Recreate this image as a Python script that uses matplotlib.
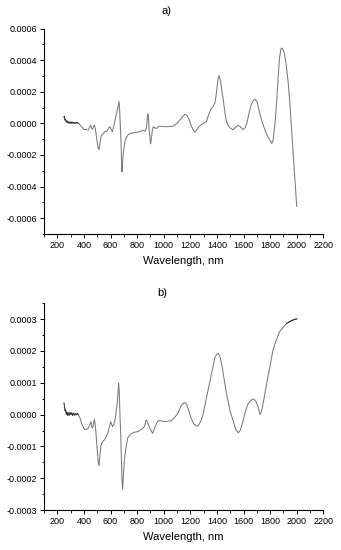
import matplotlib
matplotlib.use("Agg")
import matplotlib.pyplot as plt
from matplotlib.ticker import MultipleLocator, FuncFormatter

plt.rcParams['font.family'] = ['Liberation Sans', 'DejaVu Sans']

# ---------------- data: panel a ----------------
wl_a = [250, 253, 258, 263, 268, 273, 278, 283, 288, 293, 298, 303, 308, 313, 318, 323, 328, 333, 338, 343, 348, 353, 358,
        383, 400, 408, 420, 433, 445, 451, 458, 464, 472, 479, 485, 491, 500, 508, 514, 520, 529, 537, 546, 560, 571, 585,
        596, 605, 614, 624, 634, 645, 651, 658, 664, 669, 674, 679, 683, 686, 690, 695, 701, 710, 722, 735, 747, 770, 790,
        822, 847, 860, 867, 875, 880, 884, 890, 897, 902, 908, 915, 922, 935, 947, 960, 972, 990, 1010, 1040, 1072,
        1100, 1120, 1140, 1160, 1175, 1190, 1205, 1220, 1235, 1250, 1265, 1280, 1300, 1320, 1340, 1355, 1370, 1385, 1393,
        1400, 1408, 1416, 1424, 1432, 1440, 1448, 1460, 1472, 1486, 1500, 1523, 1545, 1560, 1575, 1595, 1610, 1625, 1640,
        1655, 1670, 1686, 1700, 1712, 1724, 1740, 1760, 1780, 1800, 1812, 1822, 1830, 1840, 1850, 1862, 1872, 1882, 1890,
        1898, 1908, 1918, 1928, 1937, 1950, 1962, 1975, 1987, 2000]
val_a = [0.000040, 0.000045, 0.000020, 0.000025, 0.000008, 0.000015, 0.000004, 0.000010, 0.000000, 0.000008, 0.000002,
         0.000009, 0.000000, 0.000007, 0.000001, 0.000006, 0.000000, 0.000005, 0.000000, 0.000006, 0.000002, 0.000005, 0.000000,
         -0.000020, -0.000040, -0.000038, -0.000040, -0.000043, -0.000020, -0.000011, -0.000030, -0.000038, -0.000020, -0.000011,
         -0.000030, -0.000064, -0.000120, -0.000160, -0.000165, -0.000130, -0.000085, -0.000070, -0.000064, -0.000050, -0.000053,
         -0.000030, -0.000021, -0.000040, -0.000053, -0.000020, 0.000020, 0.000060, 0.000084, 0.000110, 0.000140, 0.000080,
         -0.000020, -0.000120, -0.000250, -0.000307, -0.000260, -0.000200, -0.000160, -0.000110, -0.000085, -0.000070, -0.000064,
         -0.000060, -0.000058, -0.000053, -0.000043, -0.000050, -0.000040, 0.000010, 0.000060, 0.000050, -0.000030, -0.000100,
         -0.000130, -0.000090, -0.000040, -0.000021, -0.000030, -0.000032, -0.000020, -0.000017, -0.000020, -0.000021, -0.000020,
         -0.000017, 0.000000, 0.000020, 0.000040, 0.000057, 0.000050, 0.000025, -0.000010, -0.000040, -0.000055, -0.000040,
         -0.000020, -0.000010, 0.000000, 0.000010, 0.000060, 0.000090, 0.000105, 0.000130, 0.000170, 0.000220, 0.000280,
         0.000302, 0.000280, 0.000240, 0.000190, 0.000148, 0.000070, 0.000010, -0.000015, -0.000030, -0.000040, -0.000020,
         -0.000013, -0.000020, -0.000040, -0.000030, 0.000000, 0.000060, 0.000110, 0.000140, 0.000153, 0.000140, 0.000100,
         0.000060, 0.000010, -0.000040, -0.000080, -0.000110, -0.000127, -0.000110, -0.000050, 0.000030, 0.000150, 0.000310,
         0.000420, 0.000472, 0.000476, 0.000465, 0.000440, 0.000390, 0.000320, 0.000250, 0.000110, -0.000040, -0.000210,
         -0.000360, -0.000525]

# ---------------- data: panel b ----------------
wl_b = [250, 253, 258, 263, 268, 273, 278, 283, 290, 296, 302, 308, 315, 322, 330, 338, 345, 352, 358,
        370, 383, 395, 408, 420, 433, 445, 453, 460, 466, 472, 479, 485, 491, 500, 508, 514, 520, 527, 534, 545, 554, 567,
        579, 590, 601, 608, 616, 625, 634, 643, 651, 656, 661, 666, 671, 676, 681, 686, 691, 697, 703, 709, 718, 729, 745,
        759, 785, 809, 834, 850, 859, 867, 875, 883, 892, 905, 917, 925, 935, 947, 959, 980, 1010, 1040, 1060, 1080, 1098,
        1115, 1128, 1145, 1160, 1175, 1190, 1205, 1228, 1245, 1260, 1280, 1298, 1315, 1335, 1355, 1370, 1385, 1400, 1411,
        1425, 1440, 1455, 1470, 1485, 1500, 1515, 1530, 1545, 1561, 1575, 1590, 1611, 1630, 1649, 1665, 1679, 1695, 1711,
        1724, 1735, 1750, 1761, 1780, 1799, 1820, 1835, 1850, 1870, 1899, 1925, 1950, 1975, 2000]
val_b = [0.000036, 0.000030, 0.000012, 0.000015, 0.000000, 0.000008, -0.000003, 0.000006, -0.000002, 0.000007, 0.000000,
         0.000006, -0.000003, 0.000005, -0.000002, 0.000004, -0.000001, 0.000004, 0.000000,
         -0.000010, -0.000027, -0.000040, -0.000048, -0.000046, -0.000043, -0.000030, -0.000022, -0.000040, -0.000043, -0.000030,
         -0.000015, -0.000030, -0.000059, -0.000110, -0.000150, -0.000161, -0.000130, -0.000100, -0.000090, -0.000083, -0.000080,
         -0.000070, -0.000059, -0.000040, -0.000022, -0.000030, -0.000038, -0.000030, -0.000017, 0.000010, 0.000036, 0.000070,
         0.000100, 0.000070, 0.000000, -0.000050, -0.000130, -0.000200, -0.000235, -0.000190, -0.000150, -0.000125, -0.000100,
         -0.000074, -0.000064, -0.000059, -0.000055, -0.000053, -0.000046, -0.000040, -0.000032, -0.000017, -0.000020, -0.000030,
         -0.000038, -0.000050, -0.000059, -0.000050, -0.000040, -0.000027, -0.000019, -0.000020, -0.000022, -0.000020, -0.000019,
         -0.000010, -0.000001, 0.000012, 0.000025, 0.000035, 0.000038, 0.000030, 0.000010, -0.000010, -0.000030, -0.000036,
         -0.000035, -0.000020, 0.000004, 0.000040, 0.000080, 0.000120, 0.000150, 0.000180, 0.000190, 0.000193, 0.000180,
         0.000150, 0.000110, 0.000070, 0.000040, 0.000010, -0.000010, -0.000030, -0.000050, -0.000057, -0.000050, -0.000030,
         0.000005, 0.000030, 0.000042, 0.000048, 0.000048, 0.000040, 0.000022, 0.000000, 0.000010, 0.000040, 0.000067, 0.000110,
         0.000151, 0.000200, 0.000220, 0.000238, 0.000260, 0.000275, 0.000287, 0.000293, 0.000298, 0.000301]

titles = ["a)", "b)"]
xlabel = "Wavelength, nm"

line_color = "#7a7a7a"

fig = plt.figure(figsize=(3.41, 5.50), dpi=100)
W, H = 341.0, 550.0
ax_a = fig.add_axes([44 / W, 1 - 234 / H, (323.3 - 44) / W, (234 - 28.5) / H])
ax_b = fig.add_axes([44 / W, 1 - 510 / H, (323.3 - 44) / W, (510 - 303.3) / H])


def fmt(v, pos):
    s = "%.4f" % v
    if s == "-0.0000":
        s = "0.0000"
    return s


def style(ax, ylim, ymaj, ymin):
    ax.set_xlim(100, 2200)
    ax.set_ylim(*ylim)
    for side in ("top", "right"):
        ax.spines[side].set_visible(False)
    for side in ("left", "bottom"):
        ax.spines[side].set_linewidth(0.8)
    ax.xaxis.set_major_locator(MultipleLocator(200))
    ax.xaxis.set_minor_locator(MultipleLocator(100))
    ax.yaxis.set_major_locator(MultipleLocator(ymaj))
    ax.yaxis.set_minor_locator(MultipleLocator(ymin))
    ax.yaxis.set_major_formatter(FuncFormatter(fmt))
    ax.tick_params(which="major", direction="out", length=3, width=0.7, labelsize=6.5, pad=2)
    ax.tick_params(which="minor", direction="out", length=1.8, width=0.6)
    ax.set_xlabel(xlabel, fontsize=8, labelpad=4)


ax_a.plot(wl_a, val_a, color=line_color, lw=0.75)
ax_a.plot(wl_a[:23], val_a[:23], color="#333333", lw=0.6)
style(ax_a, (-0.0007, 0.0006), 0.0002, 0.0001)

ax_b.plot(wl_b, val_b, color=line_color, lw=0.75)
ax_b.plot(wl_b[:19], val_b[:19], color="#333333", lw=0.6)
ax_b.plot(wl_b[-4:], val_b[-4:], color="#333333", lw=0.8)
style(ax_b, (-0.0003, 0.00035), 0.0001, 0.00005)

fig.text(167 / W, 1 - 11 / H, titles[0], ha="center", va="center", fontsize=8)
fig.text(162 / W, 1 - 293 / H, titles[1], ha="center", va="center", fontsize=8)

fig.savefig("out.png", dpi=100)
